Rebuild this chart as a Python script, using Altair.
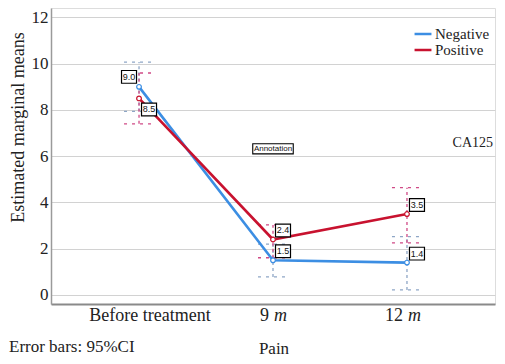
import altair as alt
import pandas as pd

categories = ["Before treatment", "9 m", "12 m"]
series = ["Negative", "Positive"]
neg_mean = [9.0, 1.5, 1.4]
pos_mean = [8.5, 2.4, 3.5]
neg_low = [7.94, 0.78, 0.22]
neg_high = [10.07, 2.2, 2.52]
pos_low = [7.4, 1.61, 2.25]
pos_high = [9.6, 3.03, 4.64]
y_ticks = [0, 2, 4, 6, 8, 10, 12]
annotation_y = 6.32
ca125_y = 6.58

rows = []
for s, means, lows, highs in [
    ("Negative", neg_mean, neg_low, neg_high),
    ("Positive", pos_mean, pos_low, pos_high),
]:
    for i, c in enumerate(categories):
        rows.append(dict(series=s, category=c, idx=i, mean=means[i], low=lows[i], high=highs[i]))
df = pd.DataFrame(rows)

lab = pd.DataFrame({"category": categories})
lab["num"] = [c.split(" ")[0] if " m" in c else "" for c in categories]
lab["unit"] = [c.split(" ")[1] if " m" in c else "" for c in categories]
lab["full"] = [c if " m" not in c else "" for c in categories]

W, H = 444, 296
SERIF = "Liberation Serif"
xscale = alt.Scale(type="point", domain=categories, padding=0.657)
yscale = alt.Scale(domain=[-0.39, 12.41], nice=False, zero=False)
X = alt.X("category:N", scale=xscale, axis=alt.Axis(labels=False, ticks=False, title=None, domainColor="#8a8a8a", domainWidth=2, grid=False))
Y = alt.Y("mean:Q", scale=yscale, axis=alt.Axis(values=y_ticks, title="Estimated marginal means", grid=True, gridColor="#d2d2d2", gridWidth=1,
                                               ticks=False, domainColor="#9a9a9a", domainWidth=1.5, labelFont=SERIF,
                                               labelFontSize=17, labelColor="#222", labelPadding=3, titleFont=SERIF,
                                               titleFontSize=18, titleFontWeight="normal", titleColor="#222", titleAngle=270,
                                               titleX=-33, titleY=119, titleAlign="center", titleBaseline="middle"))

line_colors = alt.Scale(domain=series, range=["#3c8ee3", "#c8122f"])
err_colors = alt.Scale(domain=series, range=["#8ea6c6", "#d04a86"])

base = alt.Chart(df)

err_v = base.mark_rule(strokeDash=[3, 3], strokeWidth=1.3).encode(
    x=X, y=alt.Y("low:Q", scale=yscale), y2="high:Q",
    stroke=alt.Stroke("series:N", scale=err_colors, legend=None))
cap_hi = base.mark_rule(strokeDash=[3, 5], strokeWidth=1.3, xOffset=-15, x2Offset=15).encode(
    x=X, x2="category:N", y=alt.Y("high:Q", scale=yscale),
    stroke=alt.Stroke("series:N", scale=err_colors, legend=None))
cap_lo = base.mark_rule(strokeDash=[3, 5], strokeWidth=1.3, xOffset=-15, x2Offset=15).encode(
    x=X, x2="category:N", y=alt.Y("low:Q", scale=yscale),
    stroke=alt.Stroke("series:N", scale=err_colors, legend=None))

lines = base.mark_line(strokeWidth=2.6).encode(
    x=X, y=Y, order="idx:Q",
    color=alt.Color("series:N", scale=line_colors,
                    legend=alt.Legend(title=None, orient="none", legendX=364, legendY=18,
                                      symbolType="M-1.3,0L1.3,0", symbolStrokeWidth=2.5, symbolSize=169,
                                      labelFont=SERIF, labelFontSize=15, labelColor="#222", rowPadding=0,
                                      labelOffset=4)))
points = base.mark_point(filled=False, fill="white", size=22, strokeWidth=1.2, opacity=1).encode(
    x=X, y=Y, color=alt.Color("series:N", scale=line_colors, legend=None))

box_shape = "M-1,-0.85L1,-0.85L1,0.85L-1,0.85Z"

def labels(filt, dx, dy):
    b = base.transform_filter(filt)
    box = b.mark_point(shape=box_shape, size=225, filled=False, fill="white", stroke="black",
                       strokeWidth=1.2, opacity=1, xOffset=dx, yOffset=dy).encode(x=X, y=Y)
    txt = b.mark_text(font="Liberation Sans", fontSize=9, color="#111", xOffset=dx, yOffset=dy,
                      baseline="middle", align="center").encode(x=X, y=Y, text=alt.Text("mean:Q", format=".1f"))
    return box + txt

lab_a = labels((alt.datum.category == categories[0]) & (alt.datum.series == "Negative"), -10, -10)
lab_b = labels((alt.datum.category == categories[0]) & (alt.datum.series == "Positive"), 10, 11)
lab_c = labels(alt.datum.category != categories[0], 10, -9)

ann_df = pd.DataFrame({"category": [categories[1]], "y": [annotation_y], "t": ["Annotation"]})
ann_box = alt.Chart(ann_df).mark_point(shape="M-1,-0.25L1,-0.25L1,0.25L-1,0.25Z", size=1640, filled=False,
                                       fill="white", stroke="black", strokeWidth=1.1, opacity=1).encode(
    x=X, y=alt.Y("y:Q", scale=yscale))
ann_txt = alt.Chart(ann_df).mark_text(font="Liberation Sans", fontSize=8, color="#111", baseline="middle").encode(
    x=X, y=alt.Y("y:Q", scale=yscale), text="t:N")

ca_df = pd.DataFrame({"y": [ca125_y], "t": ["CA125"]})
ca_txt = alt.Chart(ca_df).mark_text(font=SERIF, fontSize=14, color="#222", align="right", baseline="middle").encode(
    x=alt.value(442), y=alt.Y("y:Q", scale=yscale), text="t:N")

lab_base = alt.Chart(lab)
xl_full = lab_base.mark_text(font=SERIF, fontSize=18, color="#222", baseline="middle", xOffset=11).encode(
    x=X, y=alt.value(H + 12), text="full:N")
xl_num = lab_base.mark_text(font=SERIF, fontSize=18, color="#222", baseline="middle", align="right", xOffset=-4).encode(
    x=X, y=alt.value(H + 12), text="num:N")
xl_unit = lab_base.mark_text(font=SERIF, fontSize=18, fontStyle="italic", color="#222", baseline="middle",
                             align="left", xOffset=1).encode(
    x=X, y=alt.value(H + 12), text="unit:N")

foot_df = pd.DataFrame({"t": ["Pain"], "e": ["Error bars: 95%CI"]})
pain = alt.Chart(foot_df).mark_text(font=SERIF, fontSize=17, color="#222", baseline="middle").encode(
    x=alt.value(223), y=alt.value(H + 45), text="t:N")
errnote = alt.Chart(foot_df).mark_text(font=SERIF, fontSize=17, color="#222", baseline="middle", align="left").encode(
    x=alt.value(-42), y=alt.value(H + 43), text="e:N")

chart = alt.layer(
    err_v, cap_hi, cap_lo, lines, points, lab_a, lab_b, lab_c, ann_box, ann_txt, ca_txt,
    xl_full, xl_num, xl_unit, pain, errnote
).resolve_scale(color="shared", stroke="independent").properties(
    width=W, height=H, autosize=alt.AutoSizeParams(type="none"),
    padding={"left": 43, "top": 0, "right": 2, "bottom": 60}
).configure_view(stroke=None).configure(background="white")

chart.save("out.html", embed_options={"renderer": "svg", "actions": False})
